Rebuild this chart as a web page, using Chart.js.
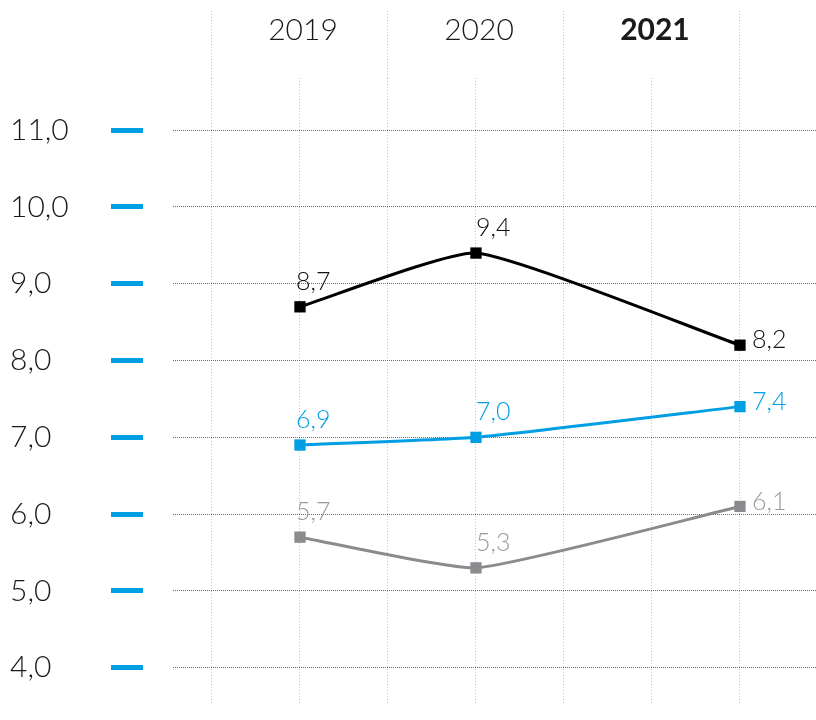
<!DOCTYPE html>
<html>
<head>
<meta charset="utf-8">
<script src="https://cdn.jsdelivr.net/npm/chart.js@4/dist/chart.umd.min.js"></script>
<style>
  html, body { margin: 0; padding: 0; background: #fff; }
  #wrap { width: 816px; height: 720px; }
</style>
</head>
<body>
<div id="wrap"><canvas id="chart" width="816" height="720"></canvas></div>
<script>
const yearLabels = ['2019', '2020', '2021'];
const yearSlots = [1, 3, 5];      // column where each year title sits
const pointSlots = [1, 3, 6];     // column where each year's points sit
const yTickValues = [4, 5, 6, 7, 8, 9, 10, 11];

const seriesBlack = [8.7, 9.4, 8.2];
const seriesBlue = [6.9, 7.0, 7.4];
const seriesGray = [5.7, 5.3, 6.1];

const FONT = 'Lato, "Open Sans", sans-serif';
const BLUE = '#009fe3';
const GRAY = '#8b8b8f';

const fmt = v => v.toFixed(1).replace('.', ',');

function makeSeries(values, color, labelColor) {
    return {
        data: values.map((v, i) => ({ x: pointSlots[i], y: v })),
        borderColor: color,
        backgroundColor: color,
        borderWidth: 3,
        tension: 0.15,
        pointStyle: 'rect',
        pointRadius: 8,
        pointBorderWidth: 0,
        pointBackgroundColor: color,
        labelColor: labelColor
    };
}

// value labels next to the markers
const valueLabels = {
    id: 'valueLabels',
    afterDatasetsDraw(chart) {
        const ctx = chart.ctx;
        ctx.save();
        ctx.font = '300 25px ' + FONT;
        ctx.textBaseline = 'middle';
        ctx.textAlign = 'left';
        chart.data.datasets.forEach((ds, di) => {
            const meta = chart.getDatasetMeta(di);
            ctx.fillStyle = ds.labelColor;
            meta.data.forEach((pt, i) => {
                const last = i === meta.data.length - 1;
                const x = last ? pt.x + 12 : pt.x - 4 + i * 4;
                const y = last ? pt.y - 5 : pt.y - 25;
                ctx.fillText(fmt(ds.data[i].y), x, y);
            });
        });
        ctx.restore();
    }
};

new Chart(document.getElementById('chart'), {
    type: 'line',
    data: {
        datasets: [
            makeSeries(seriesGray, GRAY, '#9a9a9d'),
            makeSeries(seriesBlue, BLUE, BLUE),
            makeSeries(seriesBlack, '#000', '#111')
        ]
    },
    options: {
        responsive: false,
        animation: false,
        layout: { autoPadding: false, padding: { left: 10, right: 0, top: 0, bottom: 17 } },
        plugins: {
            legend: { display: false },
            tooltip: { enabled: false }
        },
        scales: {
            x: {
                type: 'linear',
                position: 'top',
                min: -0.443,
                max: 6.864,
                afterFit: s => {
                    s.height = 78;
                    s.paddingLeft = 0;
                    s.paddingRight = 0;
                },
                border: { display: false, dash: [1, 2] },
                grid: {
                    color: '#c2c2c2',
                    lineWidth: 1,
                    tickLength: 67,
                    tickWidth: 1,
                    tickBorderDash: [1, 2],
                    tickColor: c => (c.tick && c.tick.value % 2 === 0) ? '#c2c2c2' : 'rgba(0,0,0,0)'
                },
                ticks: {
                    stepSize: 1,
                    includeBounds: false,
                    maxRotation: 0,
                    autoSkip: false,
                    padding: -37,
                    labelOffset: 3,
                    color: '#1a1a1a',
                    font: c => ({
                        family: FONT,
                        size: 30,
                        weight: (c.tick && c.tick.value === yearSlots[2]) ? 'bold' : 300
                    }),
                    callback: v => {
                        const i = yearSlots.indexOf(v);
                        return i >= 0 ? yearLabels[i] : '';
                    }
                }
            },
            y: {
                type: 'linear',
                position: 'left',
                min: 3.54,
                max: 11.68,
                afterBuildTicks: s => { s.ticks = yTickValues.map(v => ({ value: v })); },
                afterFit: s => {
                    s.width = 163;
                    s.paddingTop = 0;
                    s.paddingBottom = 0;
                },
                border: { display: false, dash: [1, 1] },
                grid: {
                    color: '#6e6e6e',
                    lineWidth: 1,
                    tickLength: 62,
                    tickWidth: 5,
                    tickColor: BLUE,
                    tickBorderDash: [32, 40]
                },
                ticks: {
                    crossAlign: 'far',
                    padding: 0,
                    color: '#1a1a1a',
                    font: { family: FONT, size: 30, weight: 300 },
                    callback: v => fmt(v)
                }
            }
        }
    },
    plugins: [valueLabels]
});
</script>
</body>
</html>
